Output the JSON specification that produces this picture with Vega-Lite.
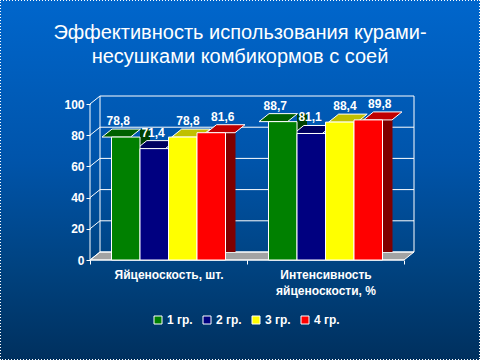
{
  "$schema": "https://vega.github.io/schema/vega-lite/v6.json",
  "width": 480,
  "height": 360,
  "autosize": {"type": "none"},
  "padding": 0,
  "background": "#004a99",
  "view": {
    "fill": {"gradient": "linear", "x1": 0, "y1": 0, "x2": 0, "y2": 1,
      "stops": [
        {"offset": 0, "color": "#0066cc"},
        {"offset": 0.45, "color": "#0054aa"},
        {"offset": 0.75, "color": "#00427f"},
        {"offset": 1, "color": "#00305e"}
      ]},
    "stroke": "white",
    "strokeDash": [1, 2],
    "strokeWidth": 2
  },
  "title": {
    "text": ["Эффективность использования курами-", "несушками комбикормов с соей"],
    "color": "white",
    "font": "Liberation Sans",
    "fontSize": 20,
    "fontWeight": "normal",
    "lineHeight": 24,
    "anchor": "middle",
    "offset": 0,
    "dy": 67
  },
  "datasets": {
    "bars": [
      {"cat": "Яйценоскость, шт.", "grp": "1 гр.", "v": 78.8},
      {"cat": "Яйценоскость, шт.", "grp": "2 гр.", "v": 71.4},
      {"cat": "Яйценоскость, шт.", "grp": "3 гр.", "v": 78.8},
      {"cat": "Яйценоскость, шт.", "grp": "4 гр.", "v": 81.6},
      {"cat": "Интенсивность яйценоскости, %", "grp": "1 гр.", "v": 88.7},
      {"cat": "Интенсивность яйценоскости, %", "grp": "2 гр.", "v": 81.1},
      {"cat": "Интенсивность яйценоскости, %", "grp": "3 гр.", "v": 88.4},
      {"cat": "Интенсивность яйценоскости, %", "grp": "4 гр.", "v": 89.8}
    ],
    "grid": [
      {"v": 0, "a": "Яйценоскость, шт.", "b": "Интенсивность яйценоскости, %"},
      {"v": 20, "a": "Яйценоскость, шт.", "b": "Интенсивность яйценоскости, %"},
      {"v": 40, "a": "Яйценоскость, шт.", "b": "Интенсивность яйценоскости, %"},
      {"v": 60, "a": "Яйценоскость, шт.", "b": "Интенсивность яйценоскости, %"},
      {"v": 80, "a": "Яйценоскость, шт.", "b": "Интенсивность яйценоскости, %"},
      {"v": 100, "a": "Яйценоскость, шт.", "b": "Интенсивность яйценоскости, %"}
    ],
    "frame": [
      {"a": "Яйценоскость, шт.", "b": "Интенсивность яйценоскости, %", "lo": 0, "hi": 100}
    ]
  },
  "layer": [
    {
      "data": {"name": "frame"},
      "mark": {"type": "point", "shape": "M0,0L314,0L324,-8L10,-8Z", "size": 4, "filled": true, "fill": "#a3a3a3", "stroke": "white", "strokeWidth": 1, "opacity": 1},
      "encoding": {
        "x": {"field": "a", "type": "nominal", "bandPosition": 0, "title": null,
          "scale": {"domain": ["Яйценоскость, шт.", "Интенсивность яйценоскости, %"], "paddingInner": 0, "paddingOuter": 0.5287, "align": 0.5422},
          "axis": {"orient": "bottom", "offset": -100, "title": null, "domain": false, "ticks": true, "tickBand": "extent", "tickColor": "white", "tickSize": 4, "labelAngle": 0, "labelColor": "white", "labelFont": "Liberation Sans", "labelFontWeight": "bold", "labelFontSize": 12, "labelPadding": 5, "labelLineHeight": 16, "labelExpr": "datum.value == 'Интенсивность яйценоскости, %' ? ['Интенсивность', 'яйценоскости, %'] : datum.label"}},
        "y": {"field": "lo", "type": "quantitative", "title": null,
          "scale": {"domain": [-64.1, 166.67], "nice": false, "zero": false},
          "axis": {"orient": "left", "offset": -90, "title": null, "values": [0, 20, 40, 60, 80, 100], "domain": false, "grid": false, "ticks": true, "tickColor": "white", "tickSize": 4, "labelColor": "white", "labelFont": "Liberation Sans", "labelFontWeight": "bold", "labelFontSize": 12, "labelPadding": 2}}
      }
    },
    {
      "data": {"name": "grid"},
      "mark": {"type": "rule", "color": "white", "strokeWidth": 1, "xOffset": 10, "x2Offset": 10, "yOffset": -8},
      "encoding": {
        "x": {"field": "a", "type": "nominal", "bandPosition": 0, "title": null},
        "x2": {"field": "b", "bandPosition": 1},
        "y": {"field": "v", "type": "quantitative", "title": null}
      }
    },
    {
      "data": {"name": "frame"},
      "mark": {"type": "rule", "color": "white", "strokeWidth": 1, "xOffset": 10, "yOffset": -8, "y2Offset": -8},
      "encoding": {
        "x": {"field": "a", "type": "nominal", "bandPosition": 0, "title": null},
        "y": {"field": "lo", "type": "quantitative", "title": null},
        "y2": {"field": "hi"}
      }
    },
    {
      "data": {"name": "frame"},
      "mark": {"type": "rule", "color": "white", "strokeWidth": 1, "xOffset": 10, "yOffset": -8, "y2Offset": -8},
      "encoding": {
        "x": {"field": "b", "type": "nominal", "bandPosition": 1, "title": null},
        "y": {"field": "lo", "type": "quantitative", "title": null},
        "y2": {"field": "hi"}
      }
    },
    {
      "data": {"name": "grid"},
      "mark": {"type": "point", "shape": "M0,0L10,-8", "size": 4, "filled": false, "stroke": "white", "strokeWidth": 1, "opacity": 1},
      "encoding": {
        "x": {"field": "a", "type": "nominal", "bandPosition": 0, "title": null},
        "y": {"field": "v", "type": "quantitative", "title": null}
      }
    },
    {
      "data": {"name": "frame"},
      "mark": {"type": "rule", "color": "white", "strokeWidth": 1},
      "encoding": {
        "x": {"field": "a", "type": "nominal", "bandPosition": 0, "title": null},
        "x2": {"field": "b", "bandPosition": 1},
        "y": {"field": "lo", "type": "quantitative", "title": null}
      }
    },
    {
      "data": {"name": "frame"},
      "mark": {"type": "rule", "color": "white", "strokeWidth": 1},
      "encoding": {
        "x": {"field": "a", "type": "nominal", "bandPosition": 0, "title": null},
        "y": {"field": "lo", "type": "quantitative", "title": null},
        "y2": {"field": "hi"}
      }
    },
    {
      "data": {"name": "bars"},
      "mark": {"type": "bar", "width": 10, "yOffset": -8, "y2Offset": -8},
      "encoding": {
        "x": {"field": "cat", "type": "nominal", "title": null},
        "xOffset": {"field": "grp", "type": "nominal", "scale": {"domain": ["1 гр.", "2 гр.", "3 гр.", "4 гр."], "paddingInner": 0, "paddingOuter": 0.7544, "align": 0.9477}},
        "y": {"field": "v", "type": "quantitative", "title": null},
        "y2": {"datum": 0},
        "fill": {"field": "grp", "type": "nominal", "legend": null, "scale": {"domain": ["1 гр.", "2 гр.", "3 гр.", "4 гр."], "range": ["#004000", "#000040", "#808000", "#800000"]}}
      }
    },
    {
      "data": {"name": "bars"},
      "mark": {"type": "point", "shape": "M-14.25,0L14.25,0L24.25,-8L-4.25,-8Z", "size": 4, "filled": true, "stroke": "white", "strokeWidth": 1, "opacity": 1},
      "encoding": {
        "x": {"field": "cat", "type": "nominal", "title": null},
        "xOffset": {"field": "grp", "type": "nominal", "scale": {"domain": ["1 гр.", "2 гр.", "3 гр.", "4 гр."], "paddingInner": 0, "paddingOuter": 0.7544}},
        "y": {"field": "v", "type": "quantitative", "title": null},
        "fill": {"field": "grp", "type": "nominal", "legend": null, "scale": {"domain": ["1 гр.", "2 гр.", "3 гр.", "4 гр."], "range": ["#006000", "#000060", "#c0c000", "#c00000"]}}
      }
    },
    {
      "data": {"name": "bars"},
      "mark": {"type": "bar", "stroke": "white", "strokeWidth": 1},
      "encoding": {
        "x": {"field": "cat", "type": "nominal", "title": null},
        "xOffset": {"field": "grp", "type": "nominal", "scale": {"domain": ["1 гр.", "2 гр.", "3 гр.", "4 гр."], "paddingInner": 0, "paddingOuter": 0.7544}},
        "y": {"field": "v", "type": "quantitative", "title": null},
        "y2": {"datum": 0},
        "color": {"field": "grp", "type": "nominal",
          "scale": {"domain": ["1 гр.", "2 гр.", "3 гр.", "4 гр."], "range": ["#008000", "#000080", "#ffff00", "#ff0000"]},
          "legend": {"orient": "none", "legendX": 152, "legendY": 314, "direction": "horizontal", "title": null, "symbolType": "square", "symbolSize": 64, "symbolStrokeColor": "white", "symbolStrokeWidth": 1, "symbolOpacity": 1, "labelColor": "white", "labelFont": "Liberation Sans", "labelFontWeight": "bold", "labelFontSize": 12, "labelOffset": 3, "columnPadding": 8}}
      }
    },
    {
      "data": {"name": "bars"},
      "mark": {"type": "text", "color": "white", "font": "Liberation Sans", "fontWeight": "bold", "fontSize": 12, "align": "center", "baseline": "alphabetic", "dx": 2, "dy": -12},
      "encoding": {
        "x": {"field": "cat", "type": "nominal", "title": null},
        "xOffset": {"field": "grp", "type": "nominal", "scale": {"domain": ["1 гр.", "2 гр.", "3 гр.", "4 гр."], "paddingInner": 0, "paddingOuter": 0.7544}},
        "y": {"field": "v", "type": "quantitative", "title": null},
        "text": {"field": "v", "type": "quantitative", "format": ".1f"}
      }
    }
  ],
  "resolve": {"scale": {"fill": "independent", "xOffset": "independent"}},
  "config": {
    "font": "Liberation Sans",
    "locale": {"number": {"decimal": ",", "thousands": " ", "grouping": [3], "currency": ["", ""]}}
  }
}
